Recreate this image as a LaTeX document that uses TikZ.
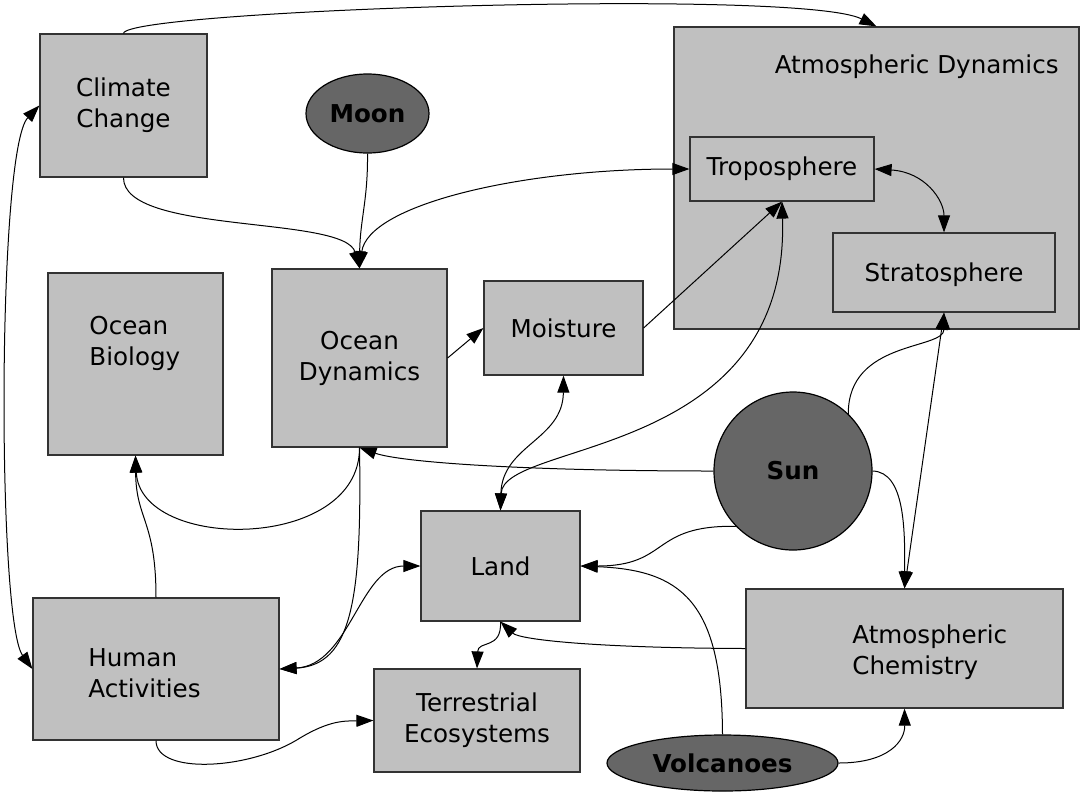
\documentclass[tikz,border=0pt]{standalone}
\usepackage{fontspec}
\setmainfont{DejaVu Sans}
\usetikzlibrary{shapes.geometric,arrows.meta}
\definecolor{panel}{HTML}{C0C0C0}
\definecolor{rim}{HTML}{333333}
\definecolor{body}{HTML}{666666}

\begin{document}
\begin{tikzpicture}[x=.5pt, y=-.5pt, font=\fontsize{12.3}{15.5}\selectfont,
  box/.style={draw=rim, fill=panel, line width=.6pt, inner sep=0pt, align=center},
  orb/.style={draw=black, fill=body, line width=.6pt, inner sep=0pt, font=\fontsize{12.3}{15.5}\selectfont\bfseries},
  txt/.style={inner sep=0pt, align=left},
  link/.style={line width=.5pt, -{Triangle[length=8.5pt,width=6pt]}},
  link2/.style={line width=.5pt, {Triangle[length=8.5pt,width=6pt]}-{Triangle[length=8.5pt,width=6pt]}}]
  \useasboundingbox (0,0) rectangle (1081,794);
  \node[box, minimum width=83.5pt, minimum height=71.5pt] (clim) at (123.5,105.5) {Climate\\Change};
  \node[orb, ellipse, minimum width=61.5pt, minimum height=39.5pt] (moon) at (367.5,113.5) {Moon};
  \node[box, minimum width=202.5pt, minimum height=151pt] (atmo) at (876.5,178) {};
  \node[txt, anchor=base east] at (1059,73) {Atmospheric Dynamics};
  \node[box, minimum width=92pt, minimum height=32pt] (tropo) at (782,169) {Troposphere};
  \node[box, minimum width=111pt, minimum height=39.5pt, text depth=-5pt] (strat) at (944,272.5) {Stratosphere};
  \node[box, minimum width=87.5pt, minimum height=91pt] (ocbio) at (135.5,364) {};
  \node[txt, anchor=west] at (89,343) {Ocean\\Biology};
  \node[box, minimum width=87.5pt, minimum height=89pt] (ocdyn) at (359.5,358) {Ocean\\Dynamics};
  \node[box, minimum width=79.5pt, minimum height=47pt] (moist) at (563.5,328) {Moisture};
  \node[orb, circle, minimum size=79pt] (sun) at (793,471) {Sun};
  \node[box, minimum width=79.5pt, minimum height=55pt] (land) at (500.5,566) {Land};
  \node[box, minimum width=123pt, minimum height=71pt] (human) at (156,669) {};
  \node[txt, anchor=west] at (88,673) {Human\\Activities};
  \node[box, minimum width=103pt, minimum height=51.5pt] (terr) at (477,720.5) {Terrestrial\\Ecosystems};
  \node[box, minimum width=158.5pt, minimum height=59.5pt] (chem) at (904.5,648.5) {};
  \node[txt, anchor=west] at (852,652) {Atmospheric\\Chemistry};
  \node[orb, ellipse, minimum width=115.5pt, minimum height=28pt] (volc) at (722.5,763) {Volcanoes};

  \draw[link] (clim.north) .. controls (126,10) and (800,-12) .. (atmo.north);
  \draw[link] (clim.south) .. controls (123,235) and (345,215) .. (ocdyn.north);
  \draw[link] (moon.south) .. controls (368,200) and (360,220) .. (ocdyn.north);
  \draw[link2] (ocdyn.north) .. controls (368,205) and (520,169) .. (tropo.west);
  \draw[link] (ocdyn.east) -- (moist.west);
  \draw[link] (moist.east) -- (tropo.south);
  \draw[link2] (land.north) .. controls (503,440) and (790,460) .. (tropo.south);
  \draw[link2] (moist.south) .. controls (563,440) and (502,445) .. (land.north);
  \draw[link2] (tropo.east) .. controls (925,172) and (944,200) .. (strat.north);
  \draw[link] (sun.46) .. controls (848,340) and (944,350) .. (strat.south);
  \draw[link2] (strat.south) -- (chem.north);
  \draw[link] (sun.east) .. controls (905,472) and (905,530) .. (chem.north);
  \draw[link] (sun.west) .. controls (520,471) and (400,462) .. (ocdyn.south);
  \draw[link] (sun.224) .. controls (650,525) and (670,566) .. (land.east);
  \draw[link] (volc.north) .. controls (722,600) and (680,570) .. (land.east);
  \draw[link] (chem.west) .. controls (600,648) and (520,640) .. (land.south);
  \draw[link] (land.south) .. controls (502,650) and (478,640) .. (terr.north);
  \draw[link] (ocdyn.south) .. controls (360,552) and (140,552) .. (ocbio.south);
  \draw[link] (ocdyn.south) .. controls (362,600) and (352,665) .. (human.east);
  \draw[link2] (land.west) .. controls (360,566) and (350,665) .. (human.east);
  \draw[link] (human.north) .. controls (156,520) and (136,520) .. (ocbio.south);
  \draw[link] (human.south) .. controls (156,775) and (250,770) .. (300,738) .. controls (330,720) and (345,721) .. (terr.west);
  \draw[link] (volc.east) .. controls (890,763) and (905,740) .. (chem.south);
  \draw[link2] (clim.west) .. controls (-3,150) and (-3,620) .. (human.west);
\end{tikzpicture}
\end{document}
